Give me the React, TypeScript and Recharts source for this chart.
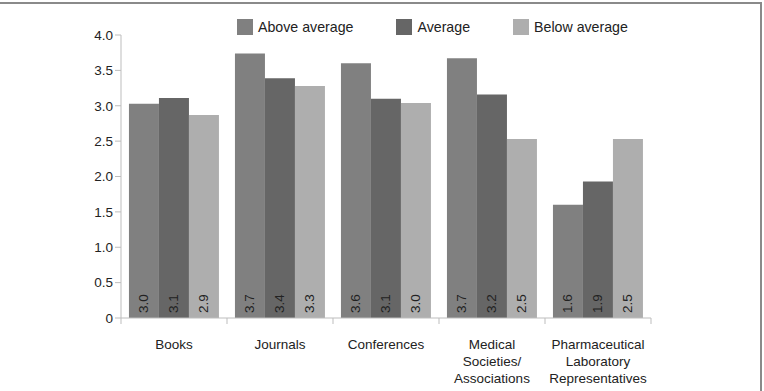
import { Bar, BarChart, XAxis, YAxis, Legend, LabelList } from "recharts"

const categories = [
  "Books",
  "Journals",
  "Conferences",
  "Medical\nSocieties/\nAssociations",
  "Pharmaceutical\nLaboratory\nRepresentatives",
]
const aboveAverage = [3.03, 3.74, 3.6, 3.67, 1.6]
const average = [3.11, 3.39, 3.1, 3.16, 1.93]
const belowAverage = [2.87, 3.28, 3.04, 2.53, 2.53]
const yTicks = [0, 0.5, 1, 1.5, 2, 2.5, 3, 3.5, 4]

const data = categories.map((name, i) => ({
  name,
  above: aboveAverage[i],
  average: average[i],
  below: belowAverage[i],
}))

const WIDTH = 764
const HEIGHT = 391
const MARGIN = { top: 35, right: 113, bottom: 0, left: 0 }
const Y_AXIS_W = 121
const X_AXIS_H = 73
const PLOT_W = WIDTH - MARGIN.left - MARGIN.right - Y_AXIS_W
const BAND = PLOT_W / categories.length

const AXIS = "#bdbdbd"
const TEXT = "#222"
const FONT = 13.5

const CategoryTick = (props: any) => {
  const { x, y, payload } = props
  const lines = String(payload.value).split("\n")
  const half = BAND / 2
  const last = payload.index === categories.length - 1
  return (
    <g>
      <line x1={x - half} x2={x - half} y1={y} y2={y + 6} stroke={AXIS} />
      {last && <line x1={x + half} x2={x + half} y1={y} y2={y + 6} stroke={AXIS} />}
      <text x={x} y={y + 31} textAnchor="middle" fontSize={FONT} fill={TEXT}>
        {lines.map((l, i) => (
          <tspan key={i} x={x} dy={i === 0 ? 0 : 17}>
            {l}
          </tspan>
        ))}
      </text>
    </g>
  )
}

// value printed vertically at the foot of each bar
const ValueLabel = (props: any) => {
  const { x, y, width, height, value } = props
  const cx = x + width / 2
  const base = y + height - 5
  return (
    <text
      x={cx}
      y={base}
      transform={`rotate(-90 ${cx} ${base})`}
      textAnchor="start"
      dominantBaseline="central"
      fontSize={FONT}
      fill={TEXT}
    >
      {Number(value).toFixed(1)}
    </text>
  )
}

const renderLegend = ({ payload }: any) => (
  <div style={{ display: "flex", gap: 43, fontSize: 14.2, color: TEXT }}>
    {payload.map((e: any) => (
      <div key={e.value} style={{ display: "flex", alignItems: "center" }}>
        <span style={{ width: 16, height: 16, background: e.color, marginRight: 5 }} />
        <span>{e.value}</span>
      </div>
    ))}
  </div>
)

export default function App() {
  return (
    <div
      style={{
        position: "absolute",
        left: 0,
        top: 0,
        width: WIDTH,
        height: HEIGHT,
        overflow: "hidden",
        background: "#fff",
        fontFamily: "'Liberation Sans', Arial, sans-serif",
      }}
    >
      <div
        style={{
          position: "absolute",
          left: -2,
          top: 2,
          width: 762,
          height: 420,
          borderTop: "2px solid #8a8a8a",
          borderRight: "2px solid #8a8a8a",
        }}
      />
      <BarChart
        width={WIDTH}
        height={HEIGHT}
        data={data}
        margin={MARGIN}
        barCategoryGap="7.5%"
        barGap={0}
      >
        <XAxis
          dataKey="name"
          height={X_AXIS_H}
          stroke={AXIS}
          tickLine={false}
          tickSize={0}
          tickMargin={0}
          interval={0}
          tick={<CategoryTick />}
        />
        <YAxis
          width={Y_AXIS_W}
          domain={[0, 4]}
          ticks={yTicks}
          stroke={AXIS}
          tickSize={6}
          tickMargin={2}
          tick={{ fill: TEXT, fontSize: FONT }}
          tickFormatter={(v: number) => (v === 0 ? "0" : v.toFixed(1))}
        />
        <Legend
          verticalAlign="middle"
          align="center"
          content={renderLegend}
          wrapperStyle={{ top: 19, left: 237, width: "auto" }}
        />
        <Bar dataKey="above" name="Above average" fill="#808080" isAnimationActive={false}>
          <LabelList dataKey="above" content={<ValueLabel />} />
        </Bar>
        <Bar dataKey="average" name="Average" fill="#666666" isAnimationActive={false}>
          <LabelList dataKey="average" content={<ValueLabel />} />
        </Bar>
        <Bar dataKey="below" name="Below average" fill="#aeaeae" isAnimationActive={false}>
          <LabelList dataKey="below" content={<ValueLabel />} />
        </Bar>
      </BarChart>
    </div>
  )
}
